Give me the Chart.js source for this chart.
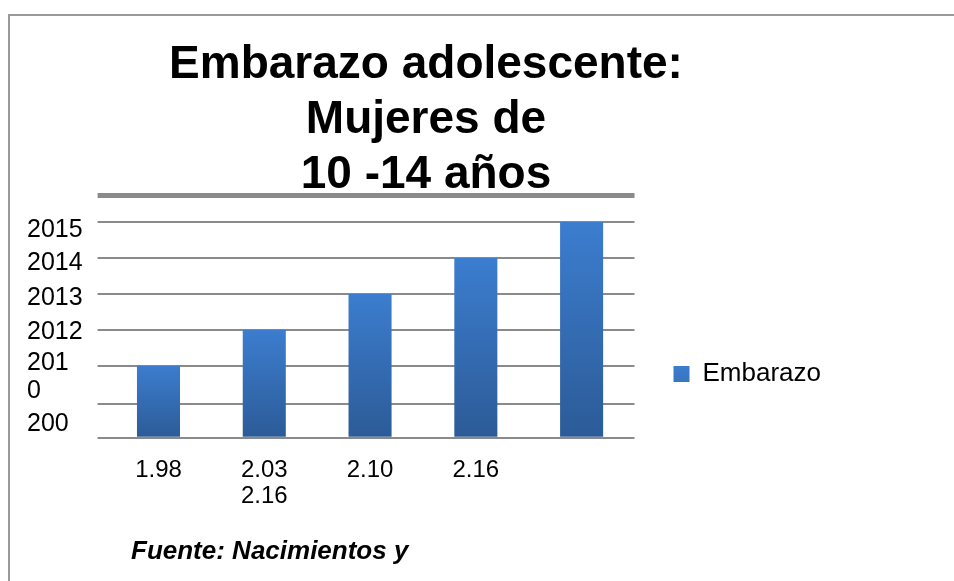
<!DOCTYPE html>
<html>
<head>
<meta charset="utf-8">
<script src="https://cdn.jsdelivr.net/npm/chart.js@4"></script>
<style>
  html, body { margin: 0; padding: 0; width: 954px; height: 581px; overflow: hidden; background: #fff; }
  #frame { position: absolute; left: 8px; top: 14px; width: 1000px; height: 1000px; border: 2px solid #9a9a9a; }
  #chart { position: absolute; left: 0; top: 0; }
  #title { position: absolute; left: 126px; top: 35px; width: 600px; text-align: center;
           font: bold 46px "Liberation Sans", Arial, sans-serif; line-height: 55px; color: #000; }
  #source { position: absolute; left: 131px; top: 537px; white-space: nowrap;
            font: italic bold 26px "Liberation Sans", Arial, sans-serif; line-height: 26px; color: #000; }
</style>
</head>
<body>
<div id="frame"></div>
<canvas id="chart" width="954" height="581"></canvas>
<div id="title">Embarazo adolescente:<br>Mujeres de<br>10 -14 años</div>
<div id="source">Fuente: Nacimientos y</div>
<script>
// datos
const categories = ['1.98', ['2.03', '2.16'], '2.10', '2.16', ''];
const embarazo = [2, 3, 4, 5, 6];
const gridValues = [0, 0.94, 2, 3, 4, 5, 6, 6.75];
const yTickLabels = ['200', ['201', '0'], '2012', '2013', '2014', '2015'];
const yTickValues = [0.38, 1.69, 2.94, 3.88, 4.85, 5.76];

Chart.defaults.font.family = '"Liberation Sans", Arial, sans-serif';
Chart.defaults.color = '#000';

function barColor(c) {
    const chart = c.chart, area = chart.chartArea;
    if (!area || c.type !== 'data') return '#3570b8';
    const y = chart.scales.y;
    const top = y.getPixelForValue(c.parsed.y), bot = y.getPixelForValue(0);
    const g = chart.ctx.createLinearGradient(0, top, 0, bot);
    g.addColorStop(0, '#3c7dcf');
    g.addColorStop(1, '#2c5b97');
    return g;
}

// lineas de la grilla y etiquetas del eje y van en el mismo eje
function yTicks(s) {
    const t = gridValues.map(v => ({ value: v }))
        .concat(yTickValues.map((v, i) => ({ value: v, text: yTickLabels[i] })));
    s.ticks = t.sort((a, b) => a.value - b.value);
}
const isLabelTick = c => c.tick && c.tick.text !== undefined;

new Chart(document.getElementById('chart'), {
    type: 'bar',
    data: {
        labels: categories,
        datasets: [{ label: 'Embarazo', data: embarazo, backgroundColor: barColor, borderWidth: 0,
                     barPercentage: 0.407, categoryPercentage: 1 }]
    },
    options: {
        responsive: false, animation: false,
        layout: { padding: { left: 27, right: 123, top: 195, bottom: 28 } },
        plugins: {
            tooltip: { enabled: false },
            legend: {
                position: 'right', align: 'center',
                labels: { boxWidth: 16, boxHeight: 16, padding: 39, font: { size: 26 }, color: '#000' }
            }
        },
        scales: {
            x: {
                grid: { display: false, drawTicks: false }, border: { display: false },
                ticks: { font: { size: 24, lineHeight: 1.1 }, padding: 19, autoSkip: false, maxRotation: 0 },
                afterFit: s => { s.height = 115.3; }
            },
            y: {
                position: 'left', min: 0, max: 6.75, bounds: 'data',
                border: { display: false },
                ticks: {
                    font: { size: 25, lineHeight: 1.12 }, crossAlign: 'far', padding: 0, autoSkip: false,
                    callback: (v, i, ticks) => ticks[i].text === undefined ? '' : ticks[i].text
                },
                grid: {
                    color: '#8a8a8a', tickLength: 8,
                    lineWidth: c => isLabelTick(c) ? 0 : (c.tick && c.tick.value === 6.75 ? 5 : 2)
                },
                afterBuildTicks: yTicks,
                afterFit: s => { s.width = 78.6; }
            }
        }
    }
});
</script>
</body>
</html>
